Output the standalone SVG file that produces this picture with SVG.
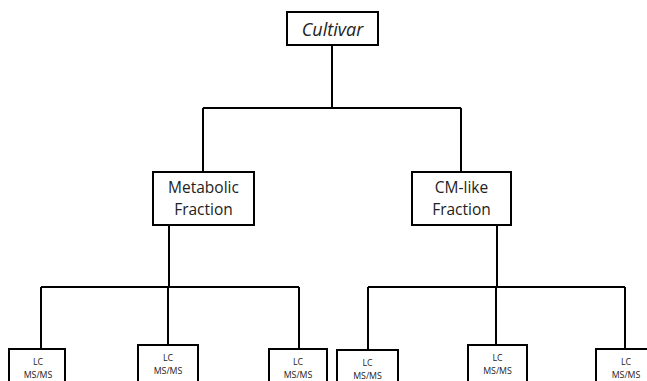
<svg xmlns="http://www.w3.org/2000/svg" width="647" height="381" viewBox="0 0 647 381">
<style>
.box{fill:#fff;stroke:#000;stroke-width:2}
.ln{fill:none;stroke:#000;stroke-width:2}
text{font-family:"Open Sans","Liberation Sans",sans-serif;fill:#222;text-anchor:middle}
.t1{font-size:18px;font-style:italic}
.t2{font-size:15.5px}
.t3{font-size:8.8px}
</style>
<rect width="647" height="381" fill="#fff"/>
<g id="connectors">
<path class="ln" d="M332,45V108M203,108H461M203,108V172M461,108V172"/>
<path class="ln" d="M169,225V287M41,287H299M41,287V349M168,287V345M299,287V349"/>
<path class="ln" d="M497,225V287M368,287H625M368,287V350M496,287V345M625,287V349"/>
</g>
<g id="cultivar"><rect class="box" x="287" y="12" width="91" height="33"/><text class="t1" x="332.5" y="36">Cultivar</text></g>
<g id="metabolic"><rect class="box" x="153" y="172" width="101" height="53"/><text class="t2" x="203.5" y="193">Metabolic</text><text class="t2" x="203.5" y="215">Fraction</text></g>
<g id="cmlike"><rect class="box" x="412" y="172" width="99" height="53"/><text class="t2" x="461.5" y="193">CM-like</text><text class="t2" x="461.5" y="215">Fraction</text></g>
<g id="lc1"><rect class="box" x="9" y="349" width="56" height="40"/><text class="t3" x="38" y="365">LC</text><text class="t3" x="38" y="378">MS/MS</text></g>
<g id="lc2"><rect class="box" x="138" y="345" width="60" height="44"/><text class="t3" x="168" y="361">LC</text><text class="t3" x="168" y="374">MS/MS</text></g>
<g id="lc3"><rect class="box" x="269" y="349" width="58" height="40"/><text class="t3" x="298" y="365">LC</text><text class="t3" x="298" y="378">MS/MS</text></g>
<g id="lc4"><rect class="box" x="337" y="350" width="61" height="40"/><text class="t3" x="367.5" y="366">LC</text><text class="t3" x="367.5" y="379">MS/MS</text></g>
<g id="lc5"><rect class="box" x="468" y="345" width="59" height="44"/><text class="t3" x="497.5" y="361">LC</text><text class="t3" x="497.5" y="374">MS/MS</text></g>
<g id="lc6"><rect class="box" x="596" y="349" width="60" height="40"/><text class="t3" x="626" y="365">LC</text><text class="t3" x="626" y="378">MS/MS</text></g>
</svg>
